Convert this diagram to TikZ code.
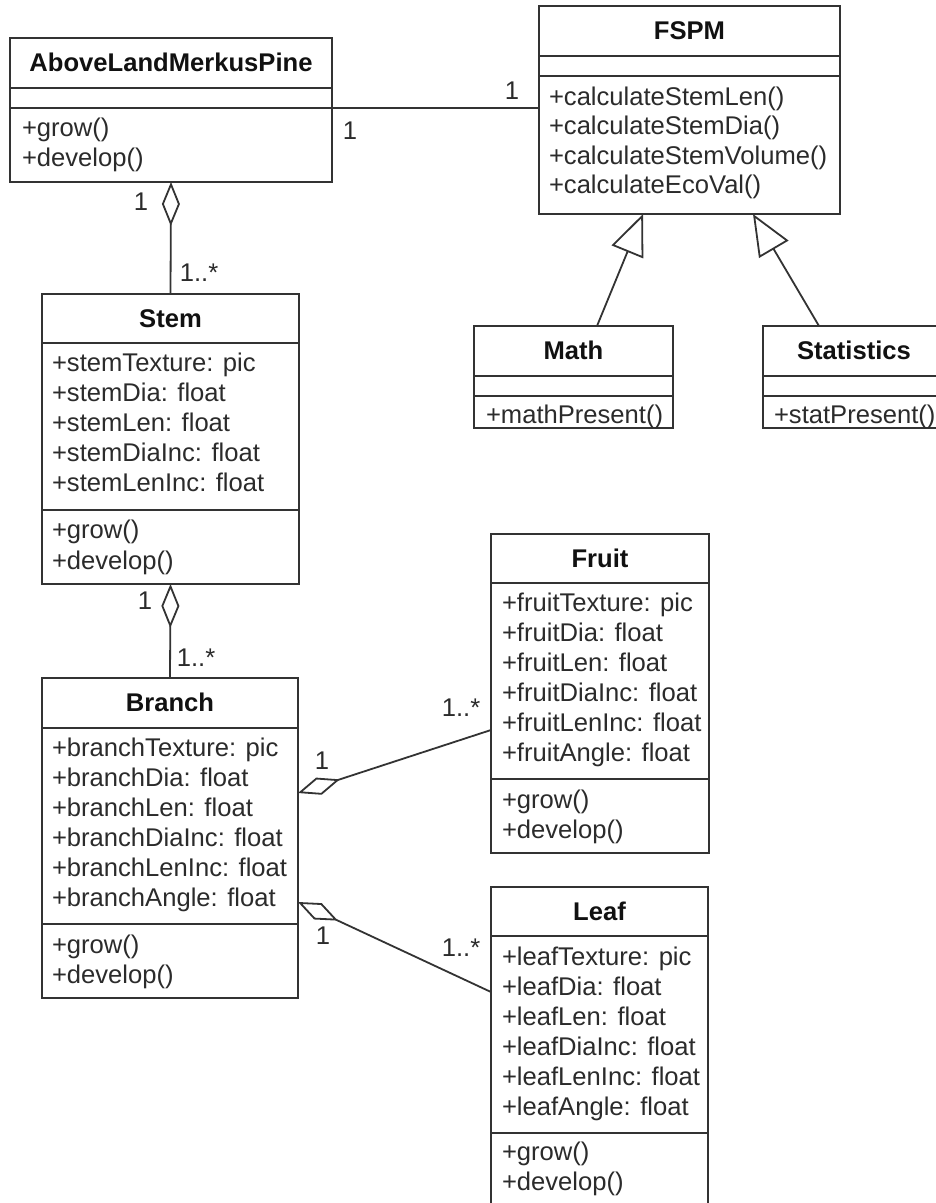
\documentclass[tikz,border=0pt]{standalone}
\usepackage{fontspec}
\setmainfont{Liberation Sans}
\usetikzlibrary{arrows.meta}
\definecolor{linec}{HTML}{333333}
\definecolor{textc}{HTML}{2b2b2b}
\definecolor{titlec}{HTML}{111111}
\begin{document}
\begin{tikzpicture}[x=1pt,y=-1pt,
  box/.style={draw=linec, line width=1.8pt, fill=white, rectangle,
    inner sep=0pt, outer sep=0pt, anchor=north west},
  sep/.style={draw=linec, line width=1.8pt},
  txt/.style={inner sep=0pt, outer sep=0pt, text height=18.4pt, text depth=0pt,
    font=\fontsize{25.6pt}{30pt}\selectfont},
  title/.style={txt, anchor=center, text=titlec, font=\fontsize{25.6pt}{30pt}\selectfont\bfseries},
  member/.style={txt, anchor=west, text=textc},
  mult/.style={txt, anchor=center, text=textc},
  assoc/.style={draw=linec, line width=1.8pt},
  agg/.style={draw=linec, line width=1.8pt, {Diamond[open, length=44pt, width=18pt]}-},
  gen/.style={draw=linec, line width=1.8pt, -{Triangle[open, length=41pt, width=34pt]}}
]
\clip (0,0) rectangle (936,1203);
\fill[white] (0,0) rectangle (936,1203);

% ---------- AboveLandMerkusPine ----------
\node[box, minimum width=322pt, minimum height=144pt] (above) at (10,38) {};
\draw[sep] ([yshift=-50pt]above.north west) -- ([yshift=-50pt]above.north east);
\draw[sep] ([yshift=-70pt]above.north west) -- ([yshift=-70pt]above.north east);
\node[title] (above-t) at ([yshift=-24.5pt]above.north) {AboveLandMerkusPine};
\foreach \t [count=\i] in {+grow(), +develop()}
  \node[member] (above-m\i) at (22,127+30*\i-30) {\t};

% ---------- FSPM ----------
\node[box, minimum width=301pt, minimum height=208pt] (fspm) at (539,6) {};
\draw[sep] ([yshift=-50pt]fspm.north west) -- ([yshift=-50pt]fspm.north east);
\draw[sep] ([yshift=-70pt]fspm.north west) -- ([yshift=-70pt]fspm.north east);
\node[title] (fspm-t) at ([yshift=-24.5pt]fspm.north) {FSPM};
\foreach \t [count=\i] in {+calculateStemLen(), +calculateStemDia(), +calculateStemVolume(), +calculateEcoVal()}
  \node[member] (fspm-m\i) at (549,96+29.5*\i-29.5) {\t};

% ---------- Math ----------
\node[box, minimum width=199pt, minimum height=102pt] (math) at (474,326) {};
\draw[sep] ([yshift=-50pt]math.north west) -- ([yshift=-50pt]math.north east);
\draw[sep] ([yshift=-70pt]math.north west) -- ([yshift=-70pt]math.north east);
\node[title] (math-t) at ([yshift=-24.5pt]math.north) {Math};
\node[member] (math-m1) at (486,414) {+mathPresent()};

% ---------- Statistics ----------
\node[box, minimum width=182pt, minimum height=102pt] (stat) at (763,326) {};
\draw[sep] ([yshift=-50pt]stat.north west) -- ([yshift=-50pt]stat.north east);
\draw[sep] ([yshift=-70pt]stat.north west) -- ([yshift=-70pt]stat.north east);
\node[title] (stat-t) at ([yshift=-24.5pt]stat.north) {Statistics};
\node[member] (stat-m1) at (774,414) {+statPresent()};

% ---------- Stem ----------
\node[box, minimum width=257pt, minimum height=290pt] (stem) at (42,294) {};
\draw[sep] ([yshift=-49pt]stem.north west) -- ([yshift=-49pt]stem.north east);
\draw[sep] ([yshift=-216pt]stem.north west) -- ([yshift=-216pt]stem.north east);
\node[title] (stem-t) at ([yshift=-24.5pt]stem.north) {Stem};
\foreach \t [count=\i] in {+stemTexture: pic, +stemDia: float, +stemLen: float, +stemDiaInc: float, +stemLenInc: float}
  \node[member] (stem-a\i) at (52,362+30*\i-30) {\t};
\foreach \t [count=\i] in {+grow(), +develop()}
  \node[member] (stem-m\i) at (52,529+31*\i-31) {\t};

% ---------- Branch ----------
\node[box, minimum width=256pt, minimum height=320pt] (branch) at (42,678) {};
\draw[sep] ([yshift=-50pt]branch.north west) -- ([yshift=-50pt]branch.north east);
\draw[sep] ([yshift=-246pt]branch.north west) -- ([yshift=-246pt]branch.north east);
\node[title] (branch-t) at ([yshift=-24.5pt]branch.north) {Branch};
\foreach \t [count=\i] in {+branchTexture: pic, +branchDia: float, +branchLen: float, +branchDiaInc: float, +branchLenInc: float, +branchAngle: float}
  \node[member] (branch-a\i) at (52,747+30*\i-30) {\t};
\foreach \t [count=\i] in {+grow(), +develop()}
  \node[member] (branch-m\i) at (52,944+30*\i-30) {\t};

% ---------- Fruit ----------
\node[box, minimum width=218pt, minimum height=319pt] (fruit) at (491,534) {};
\draw[sep] ([yshift=-49pt]fruit.north west) -- ([yshift=-49pt]fruit.north east);
\draw[sep] ([yshift=-245pt]fruit.north west) -- ([yshift=-245pt]fruit.north east);
\node[title] (fruit-t) at ([yshift=-24.5pt]fruit.north) {Fruit};
\foreach \t [count=\i] in {+fruitTexture: pic, +fruitDia: float, +fruitLen: float, +fruitDiaInc: float, +fruitLenInc: float, +fruitAngle: float}
  \node[member] (fruit-a\i) at (502,602+30*\i-30) {\t};
\foreach \t [count=\i] in {+grow(), +develop()}
  \node[member] (fruit-m\i) at (502,799+30*\i-30) {\t};

% ---------- Leaf ----------
\node[box, minimum width=217pt, minimum height=320pt] (leaf) at (491,887) {};
\draw[sep] ([yshift=-49pt]leaf.north west) -- ([yshift=-49pt]leaf.north east);
\draw[sep] ([yshift=-246pt]leaf.north west) -- ([yshift=-246pt]leaf.north east);
\node[title] (leaf-t) at ([yshift=-24.5pt]leaf.north) {Leaf};
\foreach \t [count=\i] in {+leafTexture: pic, +leafDia: float, +leafLen: float, +leafDiaInc: float, +leafLenInc: float, +leafAngle: float}
  \node[member] (leaf-a\i) at (502,956+30*\i-30) {\t};
\foreach \t [count=\i] in {+grow(), +develop()}
  \node[member] (leaf-m\i) at (502,1151+30*\i-30) {\t};

% ---------- Relations ----------
% association
\draw[assoc] ([yshift=-70pt]above.north east) -- ([yshift=-102pt]fspm.north west);
\node[mult] (m-fspm) at (512,90) {1};
\node[mult] (m-above) at (350,130) {1};

% aggregations
\draw[agg] (above.south) -- (stem.north);
\node[mult] (m-above-stem1) at (141,201) {1};
\node[mult] (m-above-stem2) at (199,272) {1..*};

\draw[agg] (stem.south) -- (branch.north);
\node[mult] (m-stem-branch1) at (145,600) {1};
\node[mult] (m-stem-branch2) at (196,657) {1..*};

\draw[agg] ([yshift=-115pt]branch.north east) -- ([yshift=-196pt]fruit.north west);
\node[mult] (m-branch-fruit1) at (322,760) {1};
\node[mult] (m-branch-fruit2) at (461,707) {1..*};

\draw[agg] ([yshift=-224pt]branch.north east) -- ([yshift=-105pt]leaf.north west);
\node[mult] (m-branch-leaf1) at (323,935) {1};
\node[mult] (m-branch-leaf2) at (461,947) {1..*};

% generalizations
\draw[gen] ([xshift=123pt]math.north west) -- ([xshift=104pt]fspm.south west);
\draw[gen] ([xshift=56pt]stat.north west) -- ([xshift=214pt]fspm.south west);
\end{tikzpicture}
\end{document}
